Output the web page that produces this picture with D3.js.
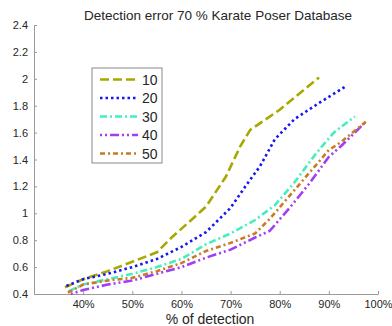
<!DOCTYPE html>
<html>
<head>
<meta charset="utf-8">
<script src="https://cdn.jsdelivr.net/npm/d3@7"></script>
<style>
  body { margin: 0; background: #fff; }
  text { font-family: "Liberation Sans", Arial, sans-serif; fill: #262626; }
</style>
</head>
<body>
<div id="chart"></div>
<script>
// values (x = % of detection, y = error)
const seriesNames = ['10', '20', '30', '40', '50'];
const xs10 = [36.3, 40, 45, 50, 55, 58, 62, 65, 69, 72, 74, 80, 88];
const ys10 = [0.45, 0.51, 0.57, 0.64, 0.71, 0.82, 0.95, 1.05, 1.27, 1.5, 1.62, 1.77, 2.01];
const xs20 = [36.6, 40, 45, 50, 55, 60, 65, 70, 73, 76, 79, 83, 88, 93.7];
const ys20 = [0.46, 0.51, 0.55, 0.6, 0.66, 0.75, 0.86, 1.04, 1.2, 1.35, 1.55, 1.7, 1.82, 1.95];
const xs30 = [37, 40, 45, 50, 55, 60, 65, 70, 75, 79, 83, 87.5, 91, 95.3];
const ys30 = [0.42, 0.47, 0.51, 0.55, 0.6, 0.66, 0.77, 0.85, 0.95, 1.06, 1.23, 1.45, 1.6, 1.72];
const xs40 = [37.5, 40, 45, 50, 55, 60, 65, 70, 75, 78, 82, 86, 90, 92.5, 97.5];
const ys40 = [0.4, 0.43, 0.47, 0.5, 0.55, 0.6, 0.67, 0.73, 0.82, 0.87, 1.04, 1.22, 1.42, 1.5, 1.68];
const xs50 = [36.9, 40, 45, 50, 55, 60, 65, 70, 75, 78, 82, 86, 90, 92.5, 97.5];
const ys50 = [0.41, 0.47, 0.5, 0.52, 0.57, 0.63, 0.72, 0.78, 0.85, 0.96, 1.13, 1.3, 1.47, 1.53, 1.68];
const xTicks = [40, 50, 60, 70, 80, 90, 100];
const yTicks = [0.4, 0.6, 0.8, 1, 1.2, 1.4, 1.6, 1.8, 2, 2.2, 2.4];

const colors = ['#a8a800', '#1616f0', '#44eec0', '#a23cf5', '#cc7a22'];
const dashes = ['9,4', '2.5,3', '7,3,2,3', '2,3,2,3,9,3', '5,3,2,3'];

const xsAll = [xs10, xs20, xs30, xs40, xs50];
const ysAll = [ys10, ys20, ys30, ys40, ys50];
const series = seriesNames.map((name, i) => ({
  name: name,
  color: colors[i],
  dash: dashes[i],
  values: xsAll[i].map((x, j) => ({x: x, y: ysAll[i][j]}))
}));

let margin = {top: 25, right: 14, bottom: 32, left: 34};
let width = 392 - margin.left - margin.right;
let height = 326 - margin.top - margin.bottom;

let svg = d3.select('#chart')
    .append('svg')
    .attr('width', 392)
    .attr('height', 326);

let g = svg.append('g')
    .attr('transform', 'translate(' + margin.left + ',' + margin.top + ')');

let x = d3.scaleLinear().domain([30, 100]).range([0, width]);
let y = d3.scaleLinear().domain([0.4, 2.4]).range([height, 0]);

let xAxis = d3.axisBottom(x)
    .tickValues(xTicks)
    .tickSize(-3)
    .tickSizeOuter(0)
    .tickPadding(6)
    .tickFormat(d => d + '%');

let yAxis = d3.axisLeft(y)
    .tickValues(yTicks)
    .tickSize(-3)
    .tickSizeOuter(0)
    .tickPadding(6)
    .tickFormat(d => String(+d.toFixed(1)));

g.append('g')
    .attr('transform', 'translate(0,' + height + ')')
    .call(xAxis)
    .call(a => a.selectAll('path, line').attr('stroke', '#9a9a9a'))
    .call(a => a.selectAll('text').attr('font-size', '11px').attr('fill', '#262626'));

g.append('g')
    .call(yAxis)
    .call(a => a.selectAll('path, line').attr('stroke', '#9a9a9a'))
    .call(a => a.selectAll('text').attr('font-size', '11px').attr('fill', '#262626'));

let line = d3.line()
    .x(d => x(d.x))
    .y(d => y(d.y));

g.append('g')
    .selectAll('path')
    .data(series)
    .enter()
    .append('path')
    .attr('fill', 'none')
    .attr('stroke', d => d.color)
    .attr('stroke-width', 2.6)
    .attr('stroke-dasharray', d => d.dash)
    .attr('d', d => line(d.values));

// title and axis label
svg.append('text')
    .attr('x', 218)
    .attr('y', 20)
    .attr('text-anchor', 'middle')
    .attr('font-size', '13.5px')
    .text('Detection error 70 % Karate Poser Database');

svg.append('text')
    .attr('x', 210)
    .attr('y', 324)
    .attr('text-anchor', 'middle')
    .attr('font-size', '14px')
    .text('% of detection');

// legend
let legend = svg.append('g').attr('transform', 'translate(92,68)');

legend.append('rect')
    .attr('width', 70)
    .attr('height', 95)
    .attr('fill', '#fff')
    .attr('stroke', '#8a8a8a')
    .attr('stroke-width', 1);

let items = legend.selectAll('g.item')
    .data(series)
    .enter()
    .append('g')
    .attr('class', 'item')
    .attr('transform', (d, i) => 'translate(0,' + (11.5 + i * 18.5) + ')');

items.append('line')
    .attr('x1', 8)
    .attr('x2', 46)
    .attr('stroke', d => d.color)
    .attr('stroke-width', 2.6)
    .attr('stroke-dasharray', d => d.dash);

items.append('text')
    .attr('x', 50)
    .attr('y', 5)
    .attr('font-size', '14px')
    .text(d => d.name);
</script>
</body>
</html>
